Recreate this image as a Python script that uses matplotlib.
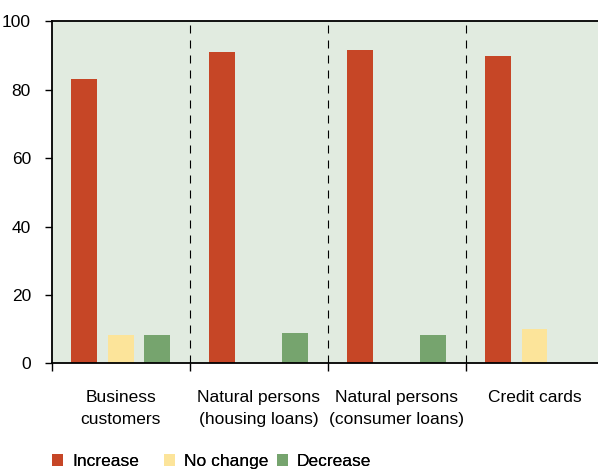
import matplotlib
matplotlib.use("Agg")
import matplotlib.pyplot as plt
import numpy as np

plt.rcParams['font.family'] = ['Liberation Sans', 'DejaVu Sans']

categories = ["Business\ncustomers", "Natural persons\n(housing loans)",
              "Natural persons\n(consumer loans)", "Credit cards"]
series_names = ["Increase", "No change", "Decrease"]
increase = [83.3, 91.1, 91.7, 90.0]
no_change = [8.3, 0.0, 0.0, 10.0]
decrease = [8.3, 8.8, 8.3, 0.0]
yticks = [0, 20, 40, 60, 80, 100]

colors = ["#C64626", "#FCE49A", "#76A46E"]
bg = "#E1EBE0"
fs = 12.5

fig = plt.figure(figsize=(5.98, 4.69), dpi=100)
ax = fig.add_axes([0.0866, 0.2254, 0.9226, 0.7288])
ax.set_facecolor(bg)

x = np.arange(len(categories)) + 0.5
width = 0.186
offsets = [-0.265, 0.0, 0.265]
bars = []
for vals, off, col, name in zip([increase, no_change, decrease], offsets, colors, series_names):
    bars.append(ax.bar(x + off, vals, width=width, color=col, label=name, zorder=2))

# dashed separators between groups
for b in range(1, len(categories)):
    ax.axvline(b, color="black", linestyle=(0, (7.2, 6.3)), linewidth=0.8, zorder=3)

ax.set_xlim(0, len(categories))
ax.set_ylim(0, 100)
ax.set_yticks(yticks)
ax.set_yticklabels([str(v) for v in yticks], fontsize=fs)
ax.tick_params(axis="y", direction="out", length=5, width=1, pad=10, colors="black")

ax.set_xticks(np.arange(len(categories) + 1))
ax.set_xticklabels([])
ax.set_xticks(x, minor=True)
ax.set_xticklabels(categories, minor=True, fontsize=fs, linespacing=1.6)
ax.tick_params(axis="x", which="major", direction="out", length=5.5, width=1)
ax.tick_params(axis="x", which="minor", length=0, pad=19)

for side in ["left", "bottom", "top"]:
    ax.spines[side].set_linewidth(1.3)
    ax.spines[side].set_color("black")
ax.spines["right"].set_visible(False)

# one legend entry per series, laid out along the bottom edge
legend_x = [0.087, 0.274, 0.463]
for bc, name, lx in zip(bars, series_names, legend_x):
    leg = fig.legend([bc], [name], loc="center left",
                     bbox_to_anchor=(lx, 0.016), frameon=False, fontsize=fs,
                     handlelength=0.65, handleheight=0.7, handletextpad=0.5,
                     borderaxespad=0, borderpad=0)
    fig.add_artist(leg)

fig.savefig("out.png", dpi=100)
